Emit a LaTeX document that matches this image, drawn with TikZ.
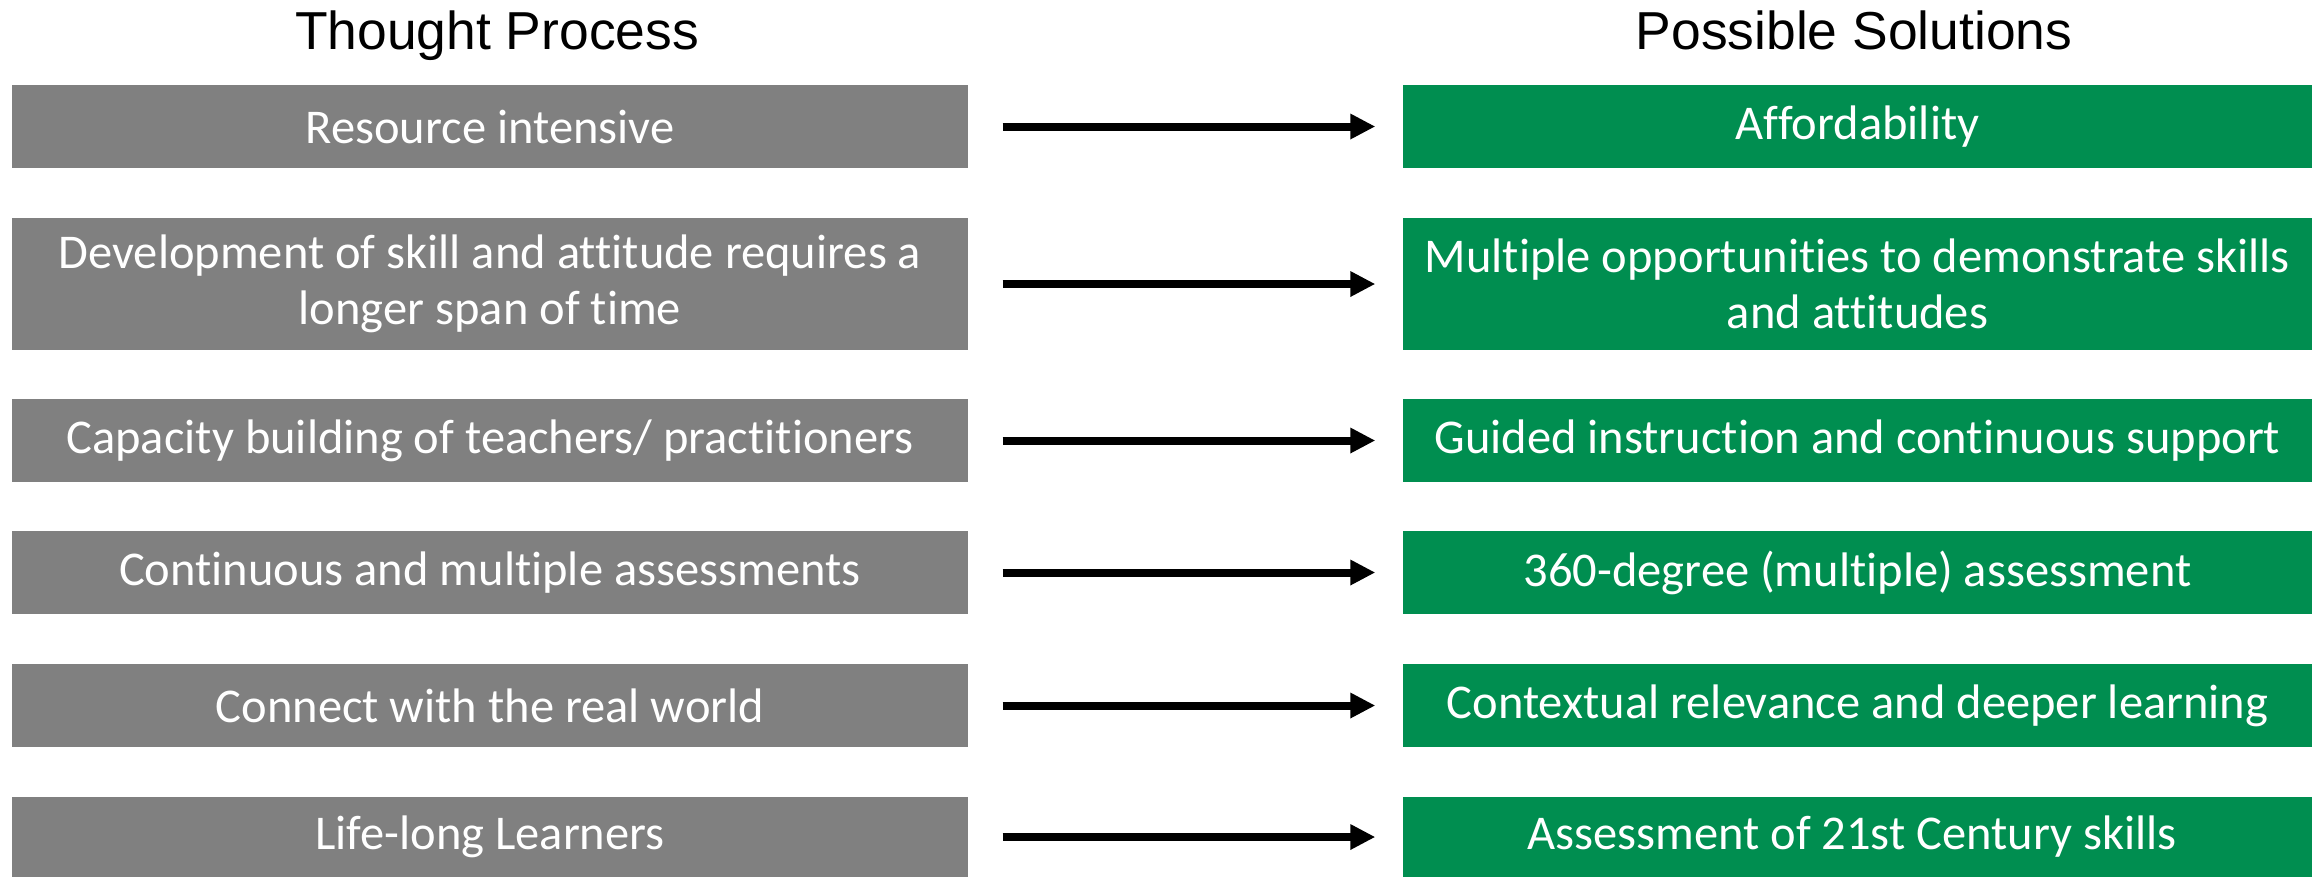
\documentclass[tikz,border=0pt]{standalone}
\usepackage{fontspec}
\setmainfont{Carlito}[Ligatures={NoCommon}]
\newfontfamily\headfont{Liberation Sans}
\usetikzlibrary{arrows.meta}
\definecolor{boxgray}{RGB}{128,128,128}
\definecolor{boxgreen}{RGB}{0,142,80}
\tikzset{
	thought/.style = {fill=boxgray, text=white, minimum width=9.56cm, align=center, inner sep=0pt, font=\fontsize{13.8}{15.8}\selectfont},
	solution/.style = {thought, fill=boxgreen, minimum width=9.09cm},
	heading/.style = {font=\headfont\fontsize{15.2}{18}\selectfont, anchor=base},
	link/.style = {line width=0.08cm, -{Triangle[length=0.25cm,width=0.24cm]}, shorten <=0.34cm, shorten >=0.27cm}
}

\begin{document}
\begin{tikzpicture}
\useasboundingbox (0,0) rectangle (23.16,-8.77);
\node [heading] (head1) at (4.97,-0.49) {Thought Process};
\node [heading] (head2) at (18.54,-0.49) {Possible Solutions};
% one row per problem, with its solution on the right
\foreach \y/\h/\a/\b [count=\r from 1] in {
	1.265/0.83/{Resource intensive}/{Affordability},
	2.84/1.32/{Development of skill and attitude requires a\\longer span of time}/{Multiple opportunities to demonstrate skills\\and attitudes},
	4.405/0.83/{Capacity building of teachers/ practitioners}/{Guided instruction and continuous support},
	5.725/0.83/{Continuous and multiple assessments}/{360-degree (multiple) assessment},
	7.055/0.83/{Connect with the real world}/{Contextual relevance and deeper learning},
	8.37/0.80/{Life-long Learners}/{Assessment of 21st Century skills}
}{
	\node [thought, minimum height=\h cm] (t\r) at (4.90,-\y) {\a};
	\node [solution, minimum height=\h cm] (s\r) at (18.575,-\y) {\b};
	\draw [link] (t\r) -- (s\r);
}
\end{tikzpicture}
\end{document}
